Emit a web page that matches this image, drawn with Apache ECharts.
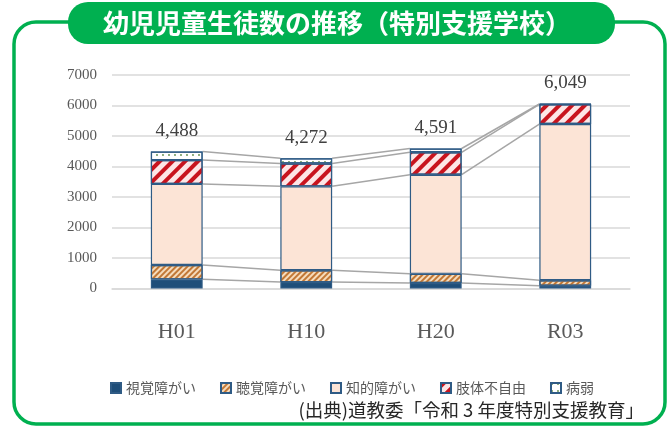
<!DOCTYPE html>
<html><head><meta charset="utf-8">
<script src="https://cdn.jsdelivr.net/npm/echarts@6/dist/echarts.min.js"></script>
<style>html,body{margin:0;padding:0;background:#fff}#c{width:670px;height:427px}</style>
</head><body><div id="c"></div>
<script>
const categories = ['H01', 'H10', 'H20', 'R03'];
const seriesNames = ['視覚障がい', '聴覚障がい', '知的障がい', '肢体不自由', '病弱'];
const visual = [300, 210, 180, 90];
const hearing = [470, 390, 300, 180];
const intellectual = [2660, 2750, 3250, 5122];
const physical = [780, 750, 735, 645];
const health = [278, 172, 126, 12];
const totals = [4488, 4272, 4591, 6049];
const titleText = '幼児児童生徒数の推移（特別支援学校）';
const sourceText = '(出典)道教委「令和 3 年度特別支援教育」';

const allSeries = [visual, hearing, intellectual, physical, health];
// cumulative boundaries
const cum = [];
let run = categories.map(() => 0);
allSeries.forEach(s => { run = run.map((v, i) => v + s[i]); cum.push(run.slice()); });
const connectorData = [];
for (let i = 0; i < categories.length - 1; i++) {
  cum.forEach(level => connectorData.push([i, level[i], level[i + 1]]));
}

const border = '#2f5b85';
const styles = [
  { color: '#1f4e79', borderColor: border, borderWidth: 1.2 },
  { color: '#f6dcbc', borderColor: border, borderWidth: 1.2,
    decal: { symbol: 'rect', symbolSize: 1, dashArrayX: [1, 0], dashArrayY: [2, 2], rotation: -Math.PI / 4, color: '#c27836' } },
  { color: '#fce4d6', borderColor: border, borderWidth: 1.2 },
  { color: '#fde6e6', borderColor: border, borderWidth: 1.2,
    decal: { symbol: 'rect', symbolSize: 1, dashArrayX: [1, 0], dashArrayY: [4, 5], rotation: -Math.PI / 4, color: '#c8141e' } },
  { color: '#ffffff', borderColor: border, borderWidth: 1.2,
    decal: { symbol: 'circle', symbolSize: 0.9, dashArrayX: [2, 4], dashArrayY: [2, 5], rotation: 0, color: '#5b8a46' } }
];

const chart = echarts.init(document.getElementById('c'), null, { renderer: 'canvas' });
const barSeries = allSeries.map((data, k) => ({
  name: seriesNames[k], type: 'bar', stack: 'total', barWidth: '40%', data: data,
  itemStyle: styles[k],
  label: k === allSeries.length - 1 ? {
    show: true, position: 'top', distance: 11,
    formatter: p => totals[p.dataIndex].toLocaleString('en-US'),
    fontFamily: 'Liberation Serif', fontSize: 19, color: '#404040'
  } : { show: false }
}));

chart.setOption({
  animation: false,
  aria: { enabled: false },
  grid: { left: 112, right: 40, top: 75, bottom: 138.5 },
  legend: {
    data: seriesNames, left: 105, top: 376, itemWidth: 10, itemHeight: 10, itemGap: 24,
    icon: 'rect',
    textStyle: { fontFamily: 'Noto Sans CJK JP', fontSize: 14, color: '#595959' }
  },
  xAxis: {
    type: 'category', data: categories,
    axisLine: { lineStyle: { color: '#d9d9d9', width: 1.5 } },
    axisTick: { show: false },
    axisLabel: { margin: 33, fontFamily: 'Liberation Serif', fontSize: 22, color: '#595959' }
  },
  yAxis: {
    type: 'value', min: 0, max: 7000, interval: 1000,
    axisLine: { show: false }, axisTick: { show: false },
    splitLine: { lineStyle: { color: '#d9d9d9', width: 1.5 } },
    axisLabel: { margin: 15, fontFamily: 'Liberation Serif', fontSize: 15, color: '#595959', formatter: v => String(v) }
  },
  series: barSeries.concat([{
    type: 'custom', name: 'connectors', silent: true, z: 1,
    data: connectorData, encode: { x: 0, y: [1, 2] },
    renderItem: (params, api) => {
      const i = api.value(0);
      const p1 = api.coord([i, api.value(1)]);
      const p2 = api.coord([i + 1, api.value(2)]);
      const hw = api.size([1, 0])[0] * 0.2;
      return { type: 'line', shape: { x1: p1[0] + hw, y1: p1[1], x2: p2[0] - hw, y2: p2[1] },
        style: { stroke: '#a6a6a6', lineWidth: 1.5 } };
    }
  }]),
  graphic: [
    { type: 'rect', shape: { x: 14, y: 22, width: 651, height: 402, r: 22 },
      style: { fill: null, stroke: '#00b050', lineWidth: 3.5 }, z: 0 },
    { type: 'rect', shape: { x: 68, y: 2, width: 547, height: 42, r: 20 },
      style: { fill: '#00b050' }, z: 1 },
    { type: 'text', x: 337, y: 23, z: 2,
      style: { text: titleText, fill: '#ffffff', font: 'bold 26px "Noto Sans CJK JP"', textAlign: 'center', textVerticalAlign: 'middle' } },
    { type: 'text', x: 644, y: 410, z: 2,
      style: { text: sourceText, fill: '#262626', font: '18.5px "Noto Sans CJK JP"', textAlign: 'right', textVerticalAlign: 'middle' } }
  ]
});
</script></body></html>
